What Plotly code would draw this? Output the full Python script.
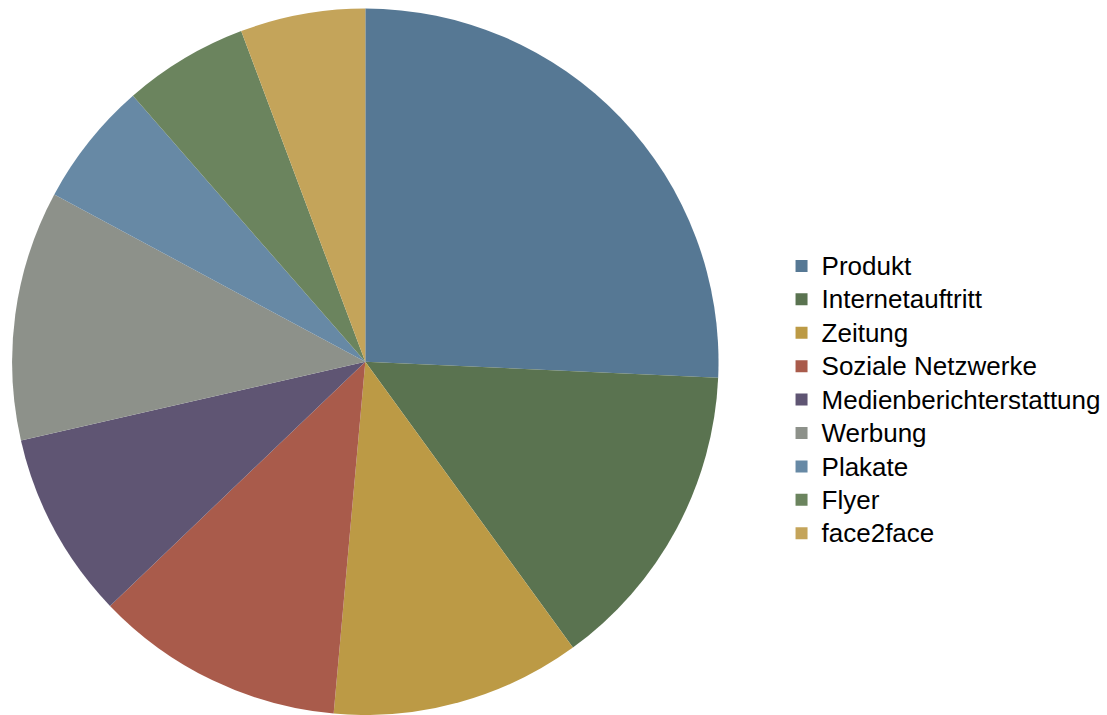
import plotly.graph_objects as go

labels = ["Produkt", "Internetauftritt", "Zeitung", "Soziale Netzwerke",
          "Medienberichterstattung", "Werbung", "Plakate", "Flyer", "face2face"]
values = [9, 5, 4, 4, 3, 4, 2, 2, 2]
colors = ["#567894", "#5a7350", "#bc9a45", "#a95b4b", "#5f5573",
          "#8d918a", "#6789a5", "#6b845e", "#c4a45a"]

legend_labels = ['<span style="font-size:26px">%s</span>' % s for s in labels]

fig = go.Figure(go.Pie(
    labels=legend_labels, values=values, sort=False, direction="clockwise",
    rotation=0, marker=dict(colors=colors, line=dict(width=0)),
    textinfo="none", hovertext=labels, hoverinfo="text+value+percent",
    domain=dict(x=[0.01, 0.65], y=[0.0, 0.988]),
))
fig.update_layout(
    width=1107, height=715, margin=dict(l=0, r=0, t=0, b=0),
    paper_bgcolor="white", plot_bgcolor="white",
    font=dict(family="Liberation Sans, Arial, sans-serif", size=23.4, color="#000000"),
    legend=dict(x=0.706, y=0.441, xanchor="left", yanchor="middle",
                font=dict(size=23.4), itemwidth=30, tracegroupgap=0),
)
fig.write_html("out.html")
